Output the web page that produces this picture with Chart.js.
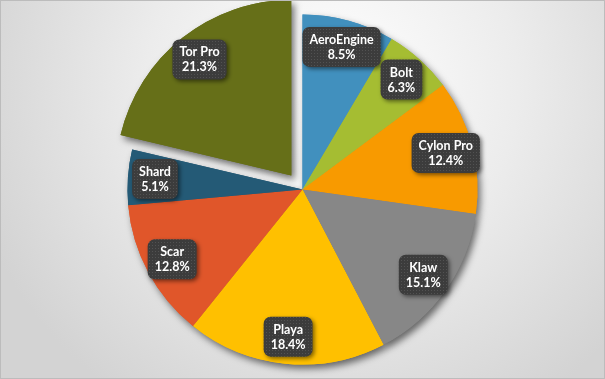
<!DOCTYPE html>
<html>
<head>
<meta charset="utf-8">
<script src="https://cdn.jsdelivr.net/npm/chart.js@4/dist/chart.umd.min.js"></script>
<style>
  html, body { margin: 0; padding: 0; }
  #frame {
    width: 605px; height: 379px; box-sizing: border-box;
    border: 1px solid #bcbcbc;
    background: radial-gradient(circle at 55% 22%, #ffffff 0%, #ececec 42%, #d3d3d3 85%);
  }
  #wrap { position: relative; width: 603px; height: 377px; }
</style>
</head>
<body>
<div id="frame"><div id="wrap"><canvas id="pieChart"></canvas></div></div>
<script>
// Chart data
const categories = ["AeroEngine", "Bolt", "Cylon Pro", "Klaw", "Playa", "Scar", "Shard", "Tor Pro"];
const shares = [8.5, 6.3, 12.4, 15.1, 18.4, 12.8, 5.1, 21.3];
const explodedCategory = "Tor Pro";

const sliceColors = ["#4190be", "#a5bd32", "#f89a00", "#878787", "#ffc000", "#e0562a", "#245a76", "#666f18"];

// Dotted fill for the label boxes
function dotPattern(ctx) {
  const c = document.createElement("canvas");
  c.width = 3; c.height = 3;
  const p = c.getContext("2d");
  p.fillStyle = "#3c3c3c";
  p.fillRect(0, 0, 3, 3);
  p.fillStyle = "#525252";
  p.fillRect(1, 1, 1, 1);
  return ctx.createPattern(c, "repeat");
}

// Soft shadow under the whole pie
const pieShadow = {
  id: "pieShadow",
  beforeDatasetsDraw(chart) {
    const ctx = chart.ctx;
    ctx.save();
    ctx.shadowColor = "rgba(0, 0, 0, 0.55)";
    ctx.shadowBlur = 7;
    ctx.shadowOffsetX = 3;
    ctx.shadowOffsetY = 4;
    chart.getDatasetMeta(0).data.forEach((arc) => arc.draw(ctx));
    ctx.restore();
  },
};

// Dark rounded label boxes with name and percentage
const labelBoxes = {
  id: "labelBoxes",
  afterDatasetsDraw(chart) {
    const ctx = chart.ctx;
    const fill = dotPattern(ctx);
    const meta = chart.getDatasetMeta(0);
    ctx.save();
    ctx.font = "bold 12.5px Lato";
    ctx.textAlign = "center";
    ctx.textBaseline = "middle";
    meta.data.forEach((arc, i) => {
      const p = arc.getProps(["x", "y", "startAngle", "endAngle", "outerRadius"], true);
      const mid = (p.startAngle + p.endAngle) / 2;
      const shift = (arc.options.offset || 0) / 4;
      const r = p.outerRadius * 0.845 + shift;
      const cx = p.x + Math.cos(mid) * r;
      const cy = p.y + Math.sin(mid) * r;
      const lines = [categories[i], shares[i].toFixed(1) + "%"];
      const w = Math.max(...lines.map((t) => ctx.measureText(t).width)) + 14;
      const h = 40;

      ctx.save();
      ctx.shadowColor = "rgba(0, 0, 0, 0.5)";
      ctx.shadowBlur = 4;
      ctx.shadowOffsetX = 2;
      ctx.shadowOffsetY = 2;
      ctx.fillStyle = fill;
      ctx.beginPath();
      ctx.roundRect(cx - w / 2, cy - h / 2, w, h, 7);
      ctx.fill();
      ctx.restore();

      ctx.fillStyle = "#ffffff";
      ctx.fillText(lines[0], cx, cy - 7);
      ctx.fillText(lines[1], cx, cy + 8);
    });
    ctx.restore();
  },
};

const ctx = document.getElementById("pieChart");
new Chart(ctx, {
  type: "pie",
  data: {
    labels: categories,
    datasets: [
      {
        data: shares,
        backgroundColor: sliceColors,
        borderWidth: 0,
        offset: (c) => (categories[c.dataIndex] === explodedCategory ? 72 : 0),
      },
    ],
  },
  options: {
    responsive: true,
    maintainAspectRatio: false,
    animation: false,
    events: [],
    radius: 175,
    layout: { padding: 0 },
    plugins: {
      legend: { display: false },
      tooltip: { enabled: false },
    },
  },
  plugins: [pieShadow, labelBoxes],
});
</script>
</body>
</html>
